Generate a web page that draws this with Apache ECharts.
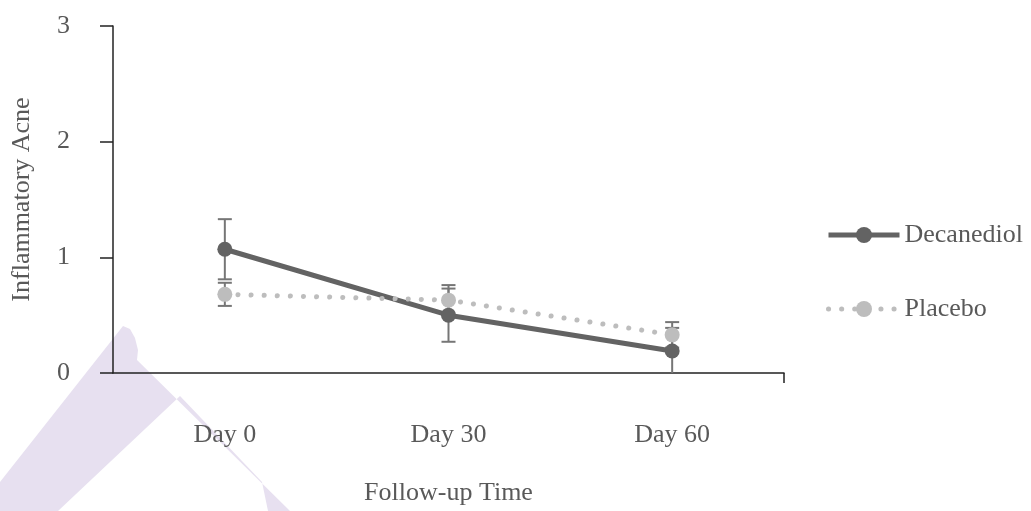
<!DOCTYPE html>
<html>
<head>
<meta charset="utf-8">
<script src="https://cdn.jsdelivr.net/npm/echarts@6/dist/echarts.min.js"></script>
<style>
html,body{margin:0;padding:0;background:#fff;}
#chart{width:1031px;height:511px;}
</style>
</head>
<body>
<div id="chart"></div>
<script>
const categories = ['Day 0', 'Day 30', 'Day 60'];
const decanediolMean = [1.07, 0.50, 0.19];
const decanediolErr = [0.26, 0.23, 0.20];
const placeboMean = [0.68, 0.63, 0.33];
const placeboErr = [0.10, 0.13, 0.11];
const yTicks = [0, 1, 2, 3];

const FONT = '"Liberation Serif", "Times New Roman", serif';
const TXT = '#595959';
const DEC = '#636363';
const PLA = '#bdbdbd';
const ERR = '#767676';
const DOTS = [0.1, 13];

function errData(means, errs) {
  return means.map((m, i) => [i, m, errs[i]]);
}
function errRender(params, api) {
  const x = api.value(0), m = api.value(1), e = api.value(2);
  const top = api.coord([x, m + e]);
  const bot = api.coord([x, Math.max(0, m - e)]);
  const hw = 7;
  const st = { stroke: ERR, lineWidth: 2 };
  const ch = [
    { type: 'line', shape: { x1: top[0], y1: top[1], x2: bot[0], y2: bot[1] }, style: st },
    { type: 'line', shape: { x1: top[0] - hw, y1: top[1], x2: top[0] + hw, y2: top[1] }, style: st }
  ];
  if (m - e > 0) ch.push({ type: 'line', shape: { x1: bot[0] - hw, y1: bot[1], x2: bot[0] + hw, y2: bot[1] }, style: st });
  return { type: 'group', children: ch };
}

const chart = echarts.init(document.getElementById('chart'), null, { renderer: 'canvas' });
chart.setOption({
  animation: false,
  backgroundColor: '#ffffff',
  graphic: [{
    type: 'polygon', z: -10, silent: true,
    shape: { points: [[0,482],[123,326],[130,329],[135,338],[138,350],[137,360],[290,511],[268,511],[262,482],[180,396],[58,511],[0,511]] },
    style: { fill: '#e7e0f0' }
  }],
  grid: { left: 113, right: 247, top: 26, bottom: 137 },
  legend: {
    orient: 'vertical', left: 826, top: 222, itemGap: 48, padding: 0,
    itemWidth: 71, itemHeight: 20,
    textStyle: { fontFamily: FONT, fontSize: 26, color: TXT },
    data: [
      { name: 'Decanediol', lineStyle: { width: 5, color: DEC } },
      { name: 'Placebo', lineStyle: { width: 5, color: PLA, type: DOTS, cap: 'round' } }
    ]
  },
  xAxis: [{
    type: 'category', data: categories, boundaryGap: true,
    axisLine: { lineStyle: { color: '#222', width: 1.5 } },
    axisTick: { alignWithLabel: true, length: 10, lineStyle: { color: '#222', width: 1.5 } },
    axisLabel: { fontFamily: FONT, fontSize: 26, color: TXT, margin: 49 },
    name: 'Follow-up Time', nameLocation: 'middle', nameGap: 107,
    nameTextStyle: { fontFamily: FONT, fontSize: 26, color: TXT }
  }, {
    type: 'value', min: 0, max: 1, position: 'bottom',
    axisLine: { show: false }, splitLine: { show: false },
    axisLabel: { show: false },
    axisTick: { show: true, length: 10, customValues: [1], lineStyle: { color: '#222', width: 1.5 } }
  }],
  yAxis: {
    type: 'value', min: yTicks[0], max: yTicks[yTicks.length - 1], interval: 1,
    axisLine: { show: true, lineStyle: { color: '#222', width: 1.5 } },
    axisTick: { show: true, inside: false, length: 13, lineStyle: { color: '#222', width: 1.5 } },
    splitLine: { show: false },
    axisLabel: { fontFamily: FONT, fontSize: 26, color: TXT, margin: 43 },
    name: 'Inflammatory Acne', nameLocation: 'middle', nameGap: 78,
    nameTextStyle: { fontFamily: FONT, fontSize: 26, color: TXT }
  },
  series: [
    {
      name: 'Decanediol', type: 'line', data: decanediolMean, z: 3,
      symbol: 'circle', symbolSize: 15,
      itemStyle: { color: DEC },
      lineStyle: { color: DEC, width: 5 }
    },
    {
      name: 'Placebo', type: 'line', data: placeboMean, z: 4,
      symbol: 'circle', symbolSize: 15,
      itemStyle: { color: PLA },
      lineStyle: { color: PLA, width: 5, type: DOTS, cap: 'round' }
    },
    {
      name: 'decErr', type: 'custom', z: 2, renderItem: errRender,
      data: errData(decanediolMean, decanediolErr), encode: { x: 0, y: 1 }, silent: true
    },
    {
      name: 'plaErr', type: 'custom', z: 2, renderItem: errRender,
      data: errData(placeboMean, placeboErr), encode: { x: 0, y: 1 }, silent: true
    }
  ]
});
</script>
</body>
</html>
